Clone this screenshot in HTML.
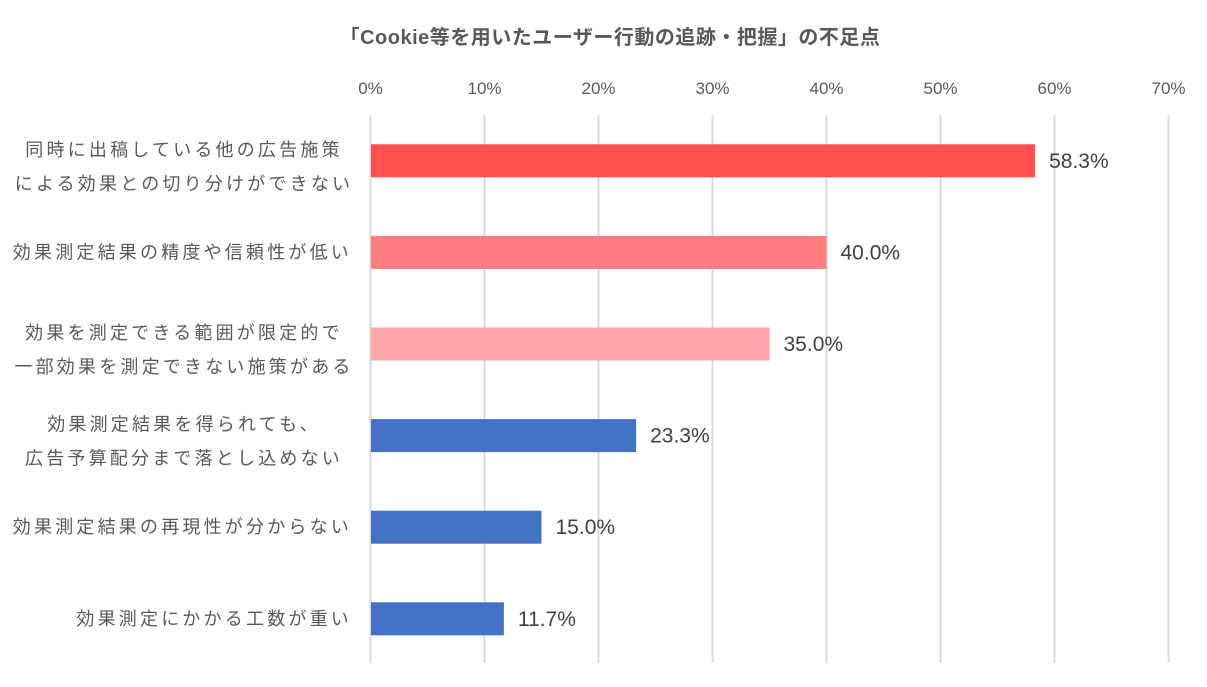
<!DOCTYPE html>
<html><head><meta charset="utf-8"><style>
html,body{margin:0;padding:0;background:#fff;}
svg{display:block;font-family:"Liberation Sans","Noto Sans CJK JP",sans-serif;}
</style></head><body>
<svg id="chart" width="1207" height="687">
<text x="610" y="44" text-anchor="middle" font-size="20" font-weight="bold" fill="#595959" letter-spacing="0.5">「Cookie等を用いたユーザー行動の追跡・把握」の不足点</text>
<g id="grid"></g><g id="bars"></g><g id="labels"></g>
</svg>
<script>
const categories = [
 ["同時に出稿している他の広告施策","による効果との切り分けができない"],
 ["効果測定結果の精度や信頼性が低い"],
 ["効果を測定できる範囲が限定的で","一部効果を測定できない施策がある"],
 ["効果測定結果を得られても、","広告予算配分まで落とし込めない"],
 ["効果測定結果の再現性が分からない"],
 ["効果測定にかかる工数が重い"]
];
const values = [58.3, 40.0, 35.0, 23.3, 15.0, 11.7];
const valueLabels = ["58.3%","40.0%","35.0%","23.3%","15.0%","11.7%"];
const ticks = [0,10,20,30,40,50,60,70];
const tickLabels = ["0%","10%","20%","30%","40%","50%","60%","70%"];
const colors = ["#FF5050","#FF7C80","#FFA7AB","#4472C4","#4472C4","#4472C4"];

const NS="http://www.w3.org/2000/svg";
const x = v => 370.5 + v*11.4;
const y0 = 115, bandH = 91.6;
const yc = i => y0 + bandH*(i+0.5);
function mk(tag, attrs, parent){const e=document.createElementNS(NS,tag);for(const k in attrs)e.setAttribute(k,attrs[k]);parent.appendChild(e);return e;}
const grid=document.getElementById('grid'), bars=document.getElementById('bars'), labels=document.getElementById('labels');
ticks.forEach((t,i)=>{
  const l=mk('line',{x1:x(t),x2:x(t),y1:115,y2:663,stroke:'#d9d9d9','stroke-width':2},grid);
  
  
  const tx=mk('text',{x:x(t),y:94,'text-anchor':'middle','font-size':17,fill:'#595959'},grid);
  tx.textContent=tickLabels[i];
  
  
});
values.forEach((v,i)=>{
  const c=yc(i);
  const r=mk('rect',{x:x(0)+0.5,y:c-16.5,width:x(v)-x(0)-0.5,height:33,fill:colors[i]},bars);
  
  
  const vt=mk('text',{x:x(v)+14,y:c+7,'font-size':21,fill:'#404040'},labels);
  vt.textContent=valueLabels[i];
  
  
  const lines=categories[i];
  lines.forEach((s,j)=>{
    const yy = lines.length===1 ? c+6 : c-11+j*34+6;
    const ct=mk('text',{'font-size':18,fill:'#595959','letter-spacing':'3.2'},labels);
    if(lines.length===1){ct.setAttribute('x',352);ct.setAttribute('text-anchor','end');}
    else{ct.setAttribute('x',184);ct.setAttribute('text-anchor','middle');}
    ct.setAttribute('y',yy);
    ct.textContent=s;
    
    
  });
});
</script>
</body></html>
